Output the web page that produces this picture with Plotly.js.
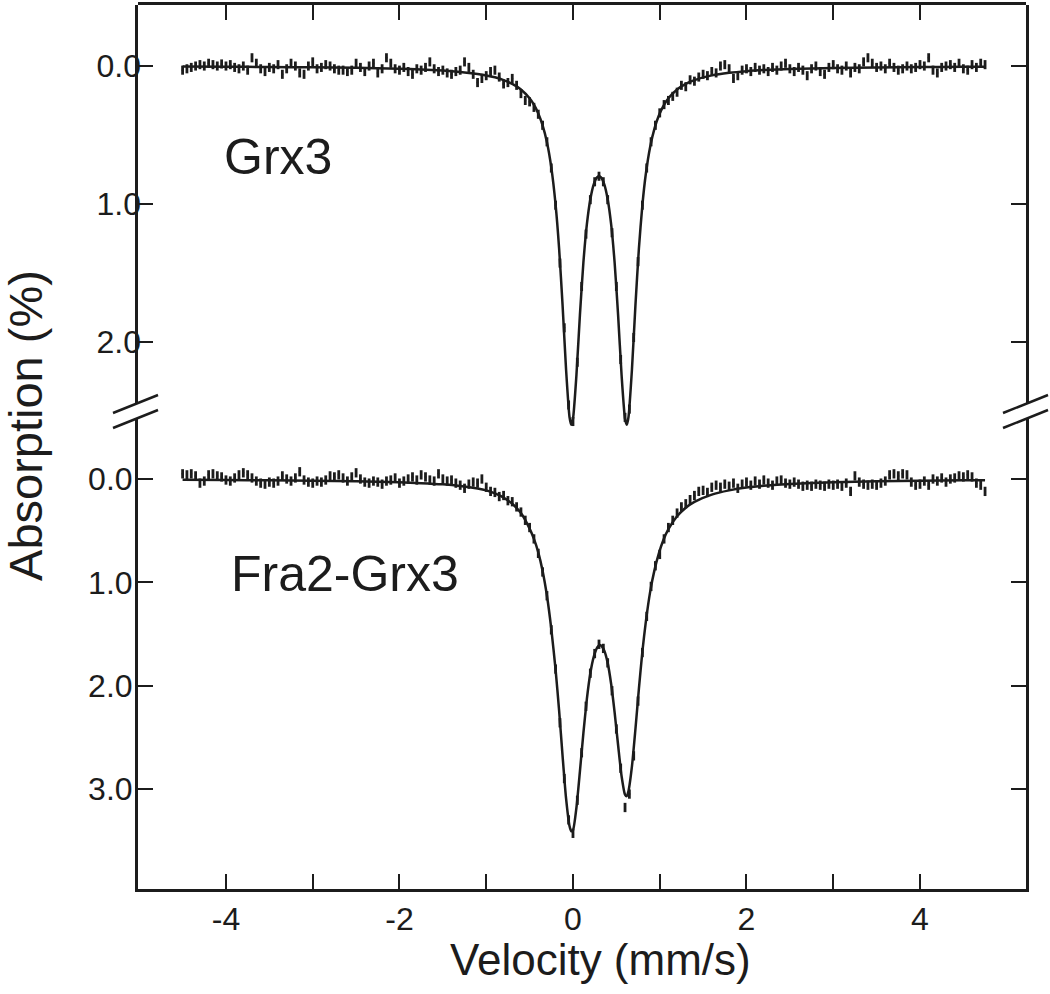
<!DOCTYPE html>
<html>
<head>
<meta charset="utf-8">
<script src="https://cdn.plot.ly/plotly-3.0.1.min.js"></script>
<style>
  body { margin: 0; background: #fff; }
  #chart { width: 1050px; height: 994px; }
</style>
</head>
<body>
<div id="chart"></div>
<script>
// channel velocities (mm/s), shared by both spectra
const velocity = [
  -4.50, -4.45, -4.40, -4.35, -4.30, -4.25, -4.20, -4.15, -4.10, -4.05,
  -4.00, -3.95, -3.90, -3.85, -3.80, -3.75, -3.70, -3.65, -3.60, -3.55,
  -3.50, -3.45, -3.40, -3.35, -3.30, -3.25, -3.20, -3.15, -3.10, -3.05,
  -3.00, -2.95, -2.90, -2.85, -2.80, -2.75, -2.70, -2.65, -2.60, -2.55,
  -2.50, -2.45, -2.40, -2.35, -2.30, -2.25, -2.20, -2.15, -2.10, -2.05,
  -2.00, -1.95, -1.90, -1.85, -1.80, -1.75, -1.70, -1.65, -1.60, -1.55,
  -1.50, -1.45, -1.40, -1.35, -1.30, -1.25, -1.20, -1.15, -1.10, -1.05,
  -1.00, -0.95, -0.90, -0.85, -0.80, -0.75, -0.70, -0.65, -0.60, -0.55,
  -0.50, -0.45, -0.40, -0.35, -0.30, -0.25, -0.20, -0.15, -0.10, -0.05,
  0.00, 0.05, 0.10, 0.15, 0.20, 0.25, 0.30, 0.35, 0.40, 0.45,
  0.50, 0.55, 0.60, 0.65, 0.70, 0.75, 0.80, 0.85, 0.90, 0.95,
  1.00, 1.05, 1.10, 1.15, 1.20, 1.25, 1.30, 1.35, 1.40, 1.45,
  1.50, 1.55, 1.60, 1.65, 1.70, 1.75, 1.80, 1.85, 1.90, 1.95,
  2.00, 2.05, 2.10, 2.15, 2.20, 2.25, 2.30, 2.35, 2.40, 2.45,
  2.50, 2.55, 2.60, 2.65, 2.70, 2.75, 2.80, 2.85, 2.90, 2.95,
  3.00, 3.05, 3.10, 3.15, 3.20, 3.25, 3.30, 3.35, 3.40, 3.45,
  3.50, 3.55, 3.60, 3.65, 3.70, 3.75, 3.80, 3.85, 3.90, 3.95,
  4.00, 4.05, 4.10, 4.15, 4.20, 4.25, 4.30, 4.35, 4.40, 4.45,
  4.50, 4.55, 4.60, 4.65, 4.70, 4.75
];

// Grx3 absorption (%)
const grx3Data = [
  0.03, 0.02, 0.01, 0.00, -0.01, 0.00, -0.02, -0.01, 0.00, -0.015,
  0.00, -0.01, 0.01, 0.02, 0.00, 0.03, -0.06, -0.02, 0.02, 0.04,
  0.01, 0.02, -0.01, 0.06, 0.02, -0.02, 0.00, 0.05, 0.06, 0.00,
  -0.03, 0.02, 0.01, -0.01, 0.00, 0.02, 0.03, 0.03, 0.04, 0.03,
  -0.02, 0.01, 0.04, 0.00, -0.02, 0.05, 0.02, -0.06, -0.02, 0.02,
  0.03, 0.01, 0.04, 0.06, 0.02, 0.03, 0.01, -0.03, 0.02, 0.04,
  0.03, 0.05, 0.06, 0.04, 0.03, -0.03, 0.01, 0.06, 0.12, 0.09,
  0.07, 0.04, 0.03, 0.08, 0.13, 0.12, 0.09, 0.14, 0.20, 0.25,
  0.26, 0.30, 0.35, 0.43, 0.55, 0.74, 1.01, 1.43, 1.90, 2.46,
  2.58, 2.15, 1.60, 1.22, 0.97, 0.84, 0.80, 0.84, 0.97, 1.21,
  1.60, 2.13, 2.55, 2.49, 1.97, 1.42, 1.01, 0.74, 0.55, 0.43,
  0.34, 0.28, 0.25, 0.22, 0.19, 0.14, 0.15, 0.10, 0.11, 0.08,
  0.06, 0.07, 0.04, 0.05, 0.00, -0.01, 0.02, 0.09, 0.07, 0.03,
  0.02, 0.04, 0.01, 0.03, 0.02, 0.04, 0.01, 0.03, 0.00, -0.02,
  0.02, 0.04, 0.01, 0.03, 0.07, 0.02, 0.00, 0.04, 0.06, 0.01,
  -0.01, 0.02, 0.03, 0.00, 0.05, 0.01, 0.02, -0.03, -0.06, -0.02,
  0.01, 0.00, 0.02, -0.02, 0.01, 0.03, 0.02, 0.00, 0.02, 0.01,
  -0.01, 0.00, -0.06, 0.03, 0.05, 0.01, 0.00, -0.01, 0.01, -0.02,
  0.02, 0.03, -0.01, 0.01, -0.02, -0.01
];

// Fra2-Grx3 absorption (%)
const fraData = [
  -0.05, -0.04, -0.05, -0.03, 0.04, 0.02, -0.04, -0.05, -0.03, -0.02,
  0.01, 0.02, -0.01, -0.04, -0.06, -0.04, -0.01, 0.02, 0.04, 0.05,
  0.03, 0.04, 0.02, -0.03, 0.00, 0.02, -0.01, -0.07, 0.01, 0.03,
  0.04, 0.02, 0.03, 0.01, -0.03, -0.02, -0.04, -0.01, 0.02, -0.02,
  -0.06, 0.00, 0.03, 0.04, 0.02, 0.03, 0.05, 0.02, 0.01, -0.01,
  0.04, 0.02, 0.00, -0.02, 0.01, -0.04, -0.02, 0.01, 0.02, -0.05,
  0.00, 0.02, 0.01, 0.04, 0.06, 0.09, 0.05, 0.03, 0.04, 0.00,
  0.08, 0.12, 0.13, 0.17, 0.16, 0.21, 0.22, 0.27, 0.32, 0.40,
  0.47, 0.58, 0.72, 0.90, 1.13, 1.46, 1.84, 2.36, 2.90, 3.30,
  3.43, 3.11, 2.65, 2.20, 1.88, 1.69, 1.60, 1.64, 1.78, 2.05,
  2.42, 2.80, 3.18, 3.05, 2.68, 2.15, 1.68, 1.33, 1.04, 0.84,
  0.73, 0.58, 0.47, 0.40, 0.33, 0.27, 0.24, 0.20, 0.16, 0.12,
  0.11, 0.13, 0.08, 0.06, 0.08, 0.05, 0.07, 0.04, 0.09, 0.05,
  0.03, 0.06, 0.02, 0.05, 0.01, 0.04, 0.06, 0.02, 0.01, 0.04,
  0.05, 0.03, 0.05, 0.07, 0.06, 0.07, 0.05, 0.06, 0.07, 0.05,
  0.06, 0.05, 0.07, 0.04, 0.12, -0.03, 0.03, 0.05, 0.06, 0.05,
  0.06, 0.04, 0.02, -0.04, -0.05, -0.03, -0.05, -0.04, 0.03, 0.06,
  0.05, 0.02, 0.06, 0.00, 0.02, -0.01, 0.03, 0.00, -0.01, -0.03,
  -0.02, -0.04, -0.02, 0.04, 0.06, 0.12
];

// fitted curves, read at these velocities
const fitVelocity = [
  -4.5, -4.0, -3.5, -3.0, -2.5, -2.0, -1.75, -1.5, -1.3, -1.1,
  -1.0, -0.9, -0.8, -0.7, -0.6, -0.5, -0.45, -0.4, -0.35, -0.3,
  -0.25, -0.2, -0.16, -0.12, -0.08, -0.04, -0.02, 0.0, 0.04, 0.08,
  0.12, 0.16, 0.2, 0.24, 0.28, 0.3, 0.32, 0.36, 0.4, 0.44,
  0.48, 0.52, 0.56, 0.6, 0.62, 0.64, 0.68, 0.72, 0.76, 0.8,
  0.84, 0.89, 0.94, 0.99, 1.04, 1.1, 1.2, 1.3, 1.4, 1.6,
  1.8, 2.0, 2.2, 2.5, 3.0, 3.5, 4.0, 4.5, 4.75
];

const grx3Fit = [
  0.004, 0.005, 0.007, 0.009, 0.013, 0.019, 0.025, 0.033, 0.043, 0.058,
  0.068, 0.082, 0.102, 0.129, 0.170, 0.234, 0.281, 0.344, 0.431, 0.554,
  0.736, 1.009, 1.323, 1.735, 2.200, 2.547, 2.604, 2.561, 2.241, 1.806,
  1.426, 1.150, 0.967, 0.857, 0.806, 0.800, 0.806, 0.857, 0.967, 1.150,
  1.426, 1.806, 2.241, 2.561, 2.604, 2.547, 2.200, 1.735, 1.323, 1.009,
  0.782, 0.585, 0.452, 0.359, 0.292, 0.234, 0.170, 0.129, 0.102, 0.068,
  0.049, 0.037, 0.029, 0.021, 0.014, 0.010, 0.0075, 0.0055, 0.005
];

const fraFit = [
  0.008, 0.010, 0.013, 0.017, 0.022, 0.032, 0.040, 0.052, 0.068, 0.092,
  0.11, 0.14, 0.18, 0.24, 0.33, 0.48, 0.58, 0.71, 0.89, 1.13,
  1.45, 1.85, 2.24, 2.68, 3.09, 3.36, 3.41, 3.40, 3.18, 2.83,
  2.46, 2.13, 1.88, 1.72, 1.63, 1.61, 1.61, 1.66, 1.78, 1.985,
  2.26, 2.575, 2.875, 3.055, 3.07, 3.02, 2.78, 2.42, 2.03, 1.67,
  1.38, 1.09, 0.88, 0.72, 0.595, 0.486, 0.361, 0.278, 0.221, 0.151,
  0.11, 0.083, 0.066, 0.049, 0.032, 0.023, 0.017, 0.013, 0.011
];

const xTicks = [-4, -3, -2, -1, 0, 1, 2, 3, 4];
const xTickText = ["-4", "", "-2", "", "0", "", "2", "", "4"];

const INK = "#1c1c1c";
const FONT = "Arial, 'Liberation Sans', Helvetica, sans-serif";

function dataTrace(y, err, xa, ya) {
  return {
    x: velocity, y: y, xaxis: xa, yaxis: ya,
    type: "scatter", mode: "markers",
    marker: { size: 2, color: INK },
    error_y: { type: "constant", value: err, width: 0, thickness: 2.8, color: INK },
    hoverinfo: "skip", showlegend: false,
  };
}

function fitTrace(y, xa, ya) {
  return {
    x: fitVelocity, y: y, xaxis: xa, yaxis: ya,
    type: "scatter", mode: "lines",
    line: { color: INK, width: 2.5, shape: "spline", smoothing: 0.6 },
    hoverinfo: "skip", showlegend: false,
  };
}

const axisBase = {
  showline: true, linewidth: 3, linecolor: INK,
  ticks: "inside", ticklen: 15, tickwidth: 2, tickcolor: INK,
  showgrid: false, zeroline: false,
  tickfont: { family: FONT, size: 32, color: INK },
};

const xRange = [-5.014, 5.222];

function breakMark(xa, dx0, dx1, dy0, dy1) {
  return {
    type: "line", xref: "paper", yref: "paper",
    xsizemode: "pixel", xanchor: xa, ysizemode: "pixel", yanchor: 0.5407,
    x0: dx0, x1: dx1, y0: dy0, y1: dy1,
    line: { color: INK, width: 2.5 },
  };
}

// the top panel runs past the break so its dips are not cut; its side lines stop at the break
function sideLine(xa, dx) {
  return {
    type: "line", xref: "paper", yref: "paper",
    xsizemode: "pixel", xanchor: xa, x0: dx, x1: dx,
    y0: 0.5486, y1: 1,
    line: { color: INK, width: 3 },
  };
}

const layout = {
  width: 1050, height: 994,
  margin: { l: 138, r: 24, t: 5, b: 105 },
  paper_bgcolor: "#fff", plot_bgcolor: "rgba(0,0,0,0)",
  font: { family: FONT, color: INK },
  xaxis: Object.assign({}, axisBase, {
    anchor: "y", range: xRange, tickmode: "array",
    tickvals: xTicks, ticktext: xTickText,
  }),
  xaxis2: Object.assign({}, axisBase, {
    anchor: "y2", side: "top", matches: "x", range: xRange, tickmode: "array",
    tickvals: xTicks, showticklabels: false,
  }),
  yaxis: Object.assign({}, axisBase, {
    anchor: "x", domain: [0, 0.5317], range: [3.969, -0.581], mirror: "ticks",
    ticklabelstandoff: -4,
    tickmode: "array", tickvals: [0, 1, 2, 3], ticktext: ["0.0", "1.0", "2.0", "3.0"],
  }),
  yaxis2: Object.assign({}, axisBase, {
    anchor: "x2", domain: [0.517, 1], range: [2.656, -0.443], mirror: "ticks",
    showline: false, ticklabelstandoff: -4,
    tickmode: "array", tickvals: [0, 1, 2], ticktext: ["0.0", "1.0", "2.0"],
  }),
  shapes: [
    sideLine(0, -1.5),
    sideLine(1, 1.5),
    breakMark(0, -25, 20, -2, 16),
    breakMark(0, -25, 20, -17, 1),
    breakMark(1, -23, 22, -2, 16),
    breakMark(1, -23, 22, -17, 1),
  ],
  annotations: [
    { text: "Grx3", xref: "x2", yref: "y2", x: -4.05, y: 0.66,
      xanchor: "left", yanchor: "middle", showarrow: false,
      font: { family: FONT, size: 50, color: INK } },
    { text: "Fra2-Grx3", xref: "x", yref: "y", x: -3.97, y: 0.92,
      xanchor: "left", yanchor: "middle", showarrow: false,
      font: { family: FONT, size: 50, color: INK } },
    { text: "Velocity (mm/s)", xref: "paper", yref: "paper", x: 0.5, y: 0,
      xshift: 18, yshift: -70, xanchor: "center", yanchor: "middle", showarrow: false,
      font: { family: FONT, size: 44, color: INK } },
    { text: "Absorption (%)", xref: "paper", yref: "paper", x: 0, y: 0.5238,
      xshift: -112, xanchor: "center", yanchor: "middle", textangle: -90, showarrow: false,
      font: { family: FONT, size: 47, color: INK } },
  ],
};

Plotly.newPlot("chart", [
  dataTrace(grx3Data, 0.033, "x2", "y2"),
  fitTrace(grx3Fit, "x2", "y2"),
  dataTrace(fraData, 0.045, "x", "y"),
  fitTrace(fraFit, "x", "y"),
], layout, { displayModeBar: false, staticPlot: true });
</script>
</body>
</html>
